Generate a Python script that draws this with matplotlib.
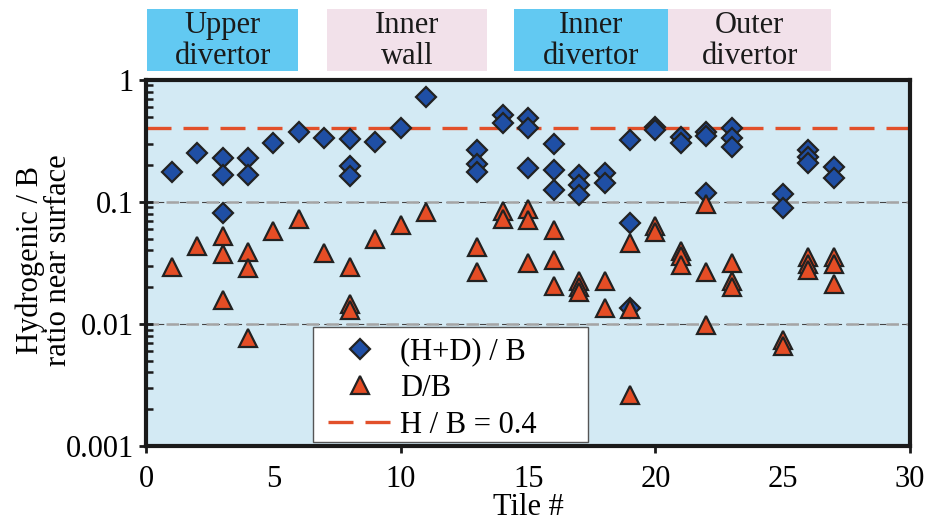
import numpy as np
import matplotlib
matplotlib.use("Agg")
import matplotlib.pyplot as plt
import matplotlib.transforms as mtransforms
from matplotlib.patches import Rectangle
from matplotlib.ticker import FixedLocator, NullFormatter, FixedFormatter

plt.rcParams['font.family'] = ['Liberation Serif', 'DejaVu Serif']

# (H+D)/B per tile
hd_tile = [1, 2, 3, 3, 3, 4, 4, 5, 6, 7, 8, 8, 8, 9, 10, 11,
           13, 13, 13, 14, 14, 15, 15, 15, 16, 16, 16, 17, 17, 17, 18, 18,
           19, 19, 19, 20, 20, 21, 21, 22, 22, 22, 23, 23, 23,
           25, 25, 26, 26, 26, 27, 27]
hd_ratio = [0.176, 0.252, 0.230, 0.166, 0.0813, 0.230, 0.166, 0.305, 0.375, 0.335,
            0.328, 0.197, 0.163, 0.310, 0.404, 0.726,
            0.267, 0.205, 0.176, 0.517, 0.444, 0.488, 0.404, 0.190,
            0.299, 0.183, 0.125, 0.166, 0.138, 0.114, 0.173, 0.143,
            0.322, 0.0673, 0.0135, 0.412, 0.390, 0.341, 0.305,
            0.375, 0.345, 0.119, 0.404, 0.335, 0.282,
            0.116, 0.0893, 0.267, 0.234, 0.209, 0.194, 0.157]

# D/B per tile
d_tile = [1, 2, 3, 3, 3, 4, 4, 4, 5, 6, 7, 8, 8, 8, 9, 10, 11,
          13, 13, 14, 14, 15, 15, 15, 16, 16, 16, 17, 17, 17, 18, 18,
          19, 19, 19, 20, 20, 21, 21, 21, 22, 22, 22, 23, 23, 23,
          25, 25, 26, 26, 26, 27, 27, 27]
d_ratio = [0.0292, 0.0438, 0.0530, 0.0375, 0.0157, 0.0391, 0.0288, 0.00767,
           0.0578, 0.0730, 0.0380, 0.0292, 0.0145, 0.0129, 0.0497, 0.0648, 0.0833,
           0.0425, 0.0265, 0.0844, 0.0722, 0.0871, 0.0712, 0.0313,
           0.0586, 0.0337, 0.0205, 0.0225, 0.0201, 0.0183, 0.0224, 0.0135,
           0.0464, 0.0132, 0.00260, 0.0640, 0.0565, 0.0394, 0.0363, 0.0303,
           0.0969, 0.0267, 0.00982, 0.0318, 0.0224, 0.0199,
           0.00739, 0.00664, 0.0354, 0.0310, 0.0277, 0.0354, 0.0310, 0.0214]

h_over_b = 0.4

regions = ['Upper\ndivertor', 'Inner\nwall', 'Inner\ndivertor', 'Outer\ndivertor']
region_span = [(0.05, 5.95), (7.1, 13.4), (14.45, 20.5), (20.5, 26.9)]
region_color = ['#62c9f2', '#f2e1ea', '#62c9f2', '#f2e1ea']

FS = 22

fig = plt.figure(figsize=(9.31, 5.24), dpi=100)
ax = fig.add_axes([0.157, 0.149, 0.8206, 0.6985])
ax.set_facecolor('#d3eaf4')

ax.set_yscale('log')
ax.set_xlim(0, 30)
ax.set_ylim(0.001, 1)

# gridlines at 0.1 and 0.01
for yv in [0.1, 0.01]:
    ax.axhline(yv, color='#444444', lw=0.8, ls=(0, (6, 4)), zorder=1)
    ax.axhline(yv, color='#a5a5a5', lw=1.8, ls=(0, (5, 3)), zorder=1.1)

ax.axhline(h_over_b, color='#e2502a', lw=2.4, ls=(0, (7.5, 3.6)), zorder=2,
           label='H / B = 0.4')
ax.plot(hd_tile, hd_ratio, 'D', ms=9.8, mfc='#1f4fa5', mec='#222222', mew=1.6,
        ls='none', zorder=3, label='(H+D) / B')
ax.plot(d_tile, d_ratio, '^', ms=13, mfc='#e54d25', mec='#222222', mew=1.6,
        ls='none', zorder=4, label='D/B')

for s in ax.spines.values():
    s.set_linewidth(3)
    s.set_color('#1a1a1a')

# x ticks: marks only at 0, 10, 20, 30; labels every 5
ax.xaxis.set_major_locator(FixedLocator([0, 10, 20, 30]))
ax.xaxis.set_major_formatter(FixedFormatter(['0', '10', '20', '30']))
ax.xaxis.set_minor_locator(FixedLocator([5, 15, 25]))
ax.xaxis.set_minor_formatter(FixedFormatter(['5', '15', '25']))
ax.tick_params(axis='x', which='major', direction='out', length=5, width=2,
               labelsize=FS, pad=9, color='#1a1a1a')
ax.tick_params(axis='x', which='minor', length=0, labelsize=FS, pad=14)

ax.set_yticks([0.001, 0.01, 0.1, 1])
ax.set_yticklabels(['0.001', '0.01', '0.1', '1'])
ax.yaxis.set_minor_formatter(NullFormatter())
ax.tick_params(axis='y', which='major', direction='inout', length=10, width=2,
               labelsize=FS, pad=4, color='#1a1a1a')
ax.tick_params(axis='y', which='minor', direction='in', length=5, width=1.8,
               color='#1a1a1a')

ax.set_xlabel('Tile #', fontsize=FS, labelpad=-1)
ax.set_ylabel('Hydrogenic / B\nratio near surface', fontsize=FS,
              linespacing=0.95, va='center')
ax.yaxis.set_label_coords(-0.133, 0.508)

# region labels above the axes
trans = mtransforms.blended_transform_factory(ax.transData, ax.transAxes)
for lab, (x0, x1), c in zip(regions, region_span, region_color):
    ax.add_patch(Rectangle((x0, 1.025), x1 - x0, 0.17, transform=trans,
                           facecolor=c, edgecolor='none', clip_on=False))
    ax.text((x0 + x1) / 2, 1.106, lab, transform=trans, ha='center', va='center',
            fontsize=FS, color='#1a1a1a', linespacing=1.12)

# legend: white box drawn separately, entries placed inside it
ax.add_patch(Rectangle((0.2186, 0.011), 0.3599, 0.314, transform=ax.transAxes,
                       facecolor='white', edgecolor='#555555', lw=1.0,
                       zorder=5))
handles, labels = ax.get_legend_handles_labels()
order = [1, 2, 0]
leg = ax.legend([handles[i] for i in order], [labels[i] for i in order],
                loc='upper left', bbox_to_anchor=(0.2264, 0.322),
                borderaxespad=0, fontsize=FS, frameon=False,
                handlelength=2.1, labelspacing=0.26, borderpad=0.3,
                handletextpad=0.25)
leg.set_zorder(6)

fig.savefig('out.png', dpi=100)
